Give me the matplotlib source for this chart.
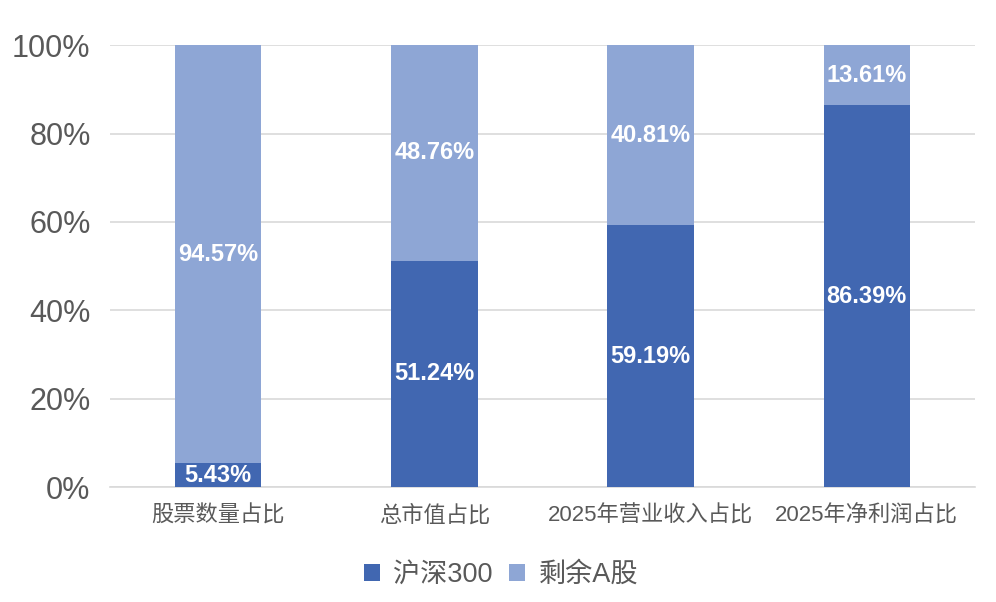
import matplotlib
matplotlib.use("Agg")
import matplotlib.pyplot as plt
import numpy as np

plt.rcParams['font.family'] = ['Liberation Sans', 'Noto Sans CJK SC', 'DejaVu Sans']

categories = ["股票数量占比", "总市值占比", "2025年营业收入占比", "2025年净利润占比"]
hs300 = [5.43, 51.24, 59.19, 86.39]
rest = [94.57, 48.76, 40.81, 13.61]
series_names = ["沪深300", "剩余A股"]
yticks = [0, 20, 40, 60, 80, 100]

dark = "#4167b1"
light = "#8ea6d5"
text_gray = "#595959"

fig = plt.figure(figsize=(9.96, 6.02), dpi=100)
ax = fig.add_axes([0.1104, 0.191, 0.8685, 0.734])

x = np.arange(len(categories))
b1 = ax.bar(x, hs300, width=0.4, color=dark, label=series_names[0], zorder=3)
b2 = ax.bar(x, rest, width=0.4, bottom=hs300, color=light, label=series_names[1], zorder=3)

# labels in the middle of each segment
for i in range(len(categories)):
    ax.text(x[i], hs300[i] / 2, f"{hs300[i]:.2f}%", ha='center', va='center',
            color='white', fontsize=17, fontweight='bold', zorder=4)
    ax.text(x[i], hs300[i] + rest[i] / 2, f"{rest[i]:.2f}%", ha='center', va='center',
            color='white', fontsize=17, fontweight='bold', zorder=4)

ax.set_xlim(-0.5, len(categories) - 0.5)
ax.set_ylim(0, 100)
ax.set_yticks(yticks)
ax.set_yticklabels([f"{v}%" for v in yticks], fontsize=22, color=text_gray)
ax.set_xticks(x)
ax.set_xticklabels(categories, fontsize=16, color=text_gray)
ax.tick_params(axis='both', length=0)
ax.tick_params(axis='y', pad=14)
ax.tick_params(axis='x', pad=13)

ax.yaxis.grid(True, color="#d9d9d9", linewidth=1.2, zorder=0)
for s in ['top', 'right', 'left']:
    ax.spines[s].set_visible(False)
ax.spines['bottom'].set_color("#d9d9d9")
ax.spines['bottom'].set_linewidth(1.2)

leg = fig.legend(handles=[b1, b2], labels=series_names, loc='center',
                 bbox_to_anchor=(0.503, 0.045), ncol=2, frameon=False,
                 fontsize=19.5, handlelength=0.6, handleheight=0.6,
                 handletextpad=0.5, columnspacing=0.6)
for t in leg.get_texts():
    t.set_color(text_gray)

fig.savefig("out.png", dpi=100)
